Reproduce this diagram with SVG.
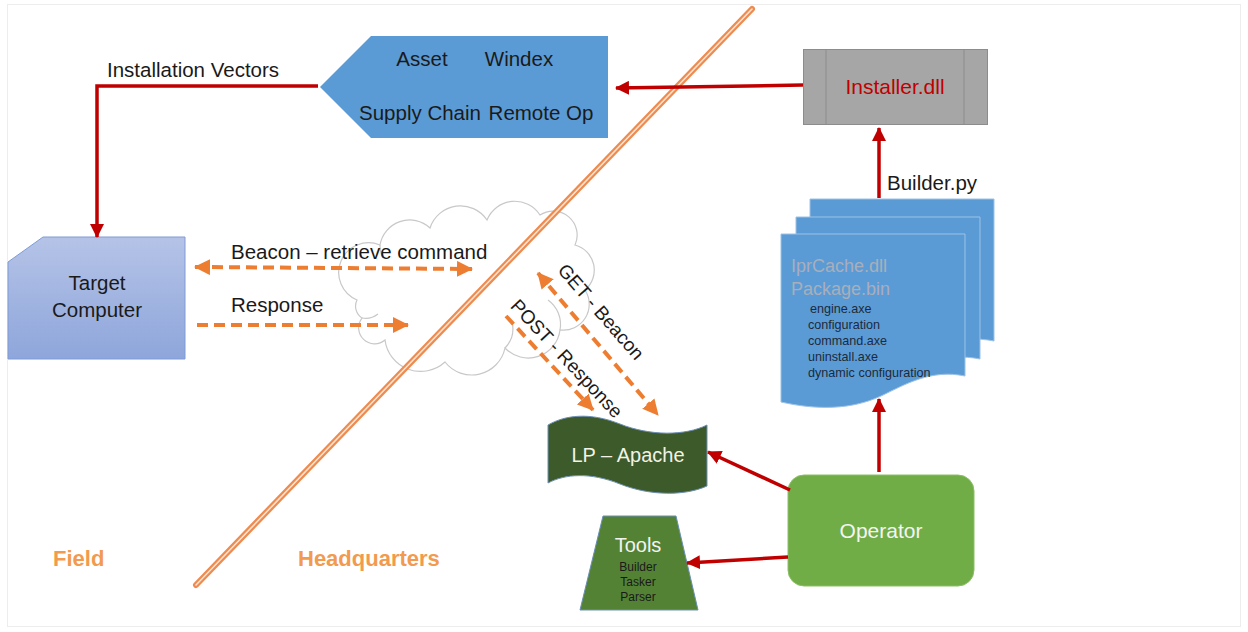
<svg xmlns="http://www.w3.org/2000/svg" width="1248" height="632" viewBox="0 0 1248 632">
<defs>
  <style>
    text { font-family: "Liberation Sans", Arial, sans-serif; fill: #1a1a1a; }
    .lbl { font-size: 20.5px; }
    .ctr { text-anchor: middle; }
    .small { font-size: 12.6px; fill: #1c2a3c; }
    .red { fill: none; stroke: #C00000; stroke-width: 3.5; }
    .orange { fill: none; stroke: #ED7D31; stroke-width: 4; stroke-dasharray: 11 6; }
    .zone { font-size: 22px; font-weight: bold; fill: #F29A4E; }
    .doc { fill: #5B9BD5; stroke: #9cc2e6; stroke-width: 1; }
    .cloudline { fill: none; stroke: #c8c8c8; stroke-width: 1.2; }
  </style>
  <marker id="redHead" markerUnits="userSpaceOnUse" markerWidth="14" markerHeight="14" viewBox="0 0 14 14" refX="13" refY="7" orient="auto">
    <path d="M0,0 L14,7 L0,14 Z" fill="#C00000"/>
  </marker>
  <marker id="orHead" markerUnits="userSpaceOnUse" markerWidth="16" markerHeight="16" viewBox="0 0 16 16" refX="15" refY="8" orient="auto-start-reverse">
    <path d="M0,0 L16,8 L0,16 Z" fill="#ED7D31"/>
  </marker>
  <linearGradient id="tcGrad" x1="0" y1="0" x2="0" y2="1">
    <stop offset="0" stop-color="#B5C3E7"/>
    <stop offset="1" stop-color="#8EA6DB"/>
  </linearGradient>
  <path id="docShape" d="M0,0 H184 V142 C150,135 125,150 100,162 C70,176 35,176 0,168 Z"/>
</defs>

<rect x="0" y="0" width="1248" height="632" fill="#ffffff"/>
<rect x="7.5" y="4.5" width="1233" height="622" fill="none" stroke="#ededed" stroke-width="1"/>

<!-- cloud (background) -->
<g id="cloud">
  <path d="M357,300 A26,26 0 0 1 380,245 A30,30 0 0 1 430,228 A32,32 0 0 1 487,220 A30,30 0 0 1 540,215 A24,24 0 0 1 575,245 A26,26 0 0 1 585,290 A26,26 0 0 1 560,330 A32,32 0 0 1 505,348 A34,34 0 0 1 445,362 A36,36 0 0 1 385,340 A16,16 0 0 1 362,318 A14,14 0 0 1 357,300 Z" fill="#ffffff" stroke="#c8c8c8" stroke-width="1.2"/>
  <path class="cloudline" d="M362,318 A20,20 0 0 0 378,314"/>
  <path class="cloudline" d="M380,245 A26,26 0 0 0 383,258"/>
  <path class="cloudline" d="M505,348 A28,28 0 0 0 512,322"/>
  <path class="cloudline" d="M560,330 A30,30 0 0 0 548,300"/>
</g>

<!-- nodes -->
<g id="vectors">
  <path d="M320,87 L371,36 H608 V138 H371 Z" fill="#5B9BD5"/>
  <text class="lbl ctr" x="422" y="66">Asset</text>
  <text class="lbl ctr" x="519" y="66">Windex</text>
  <text class="lbl ctr" x="420" y="120">Supply Chain</text>
  <text class="lbl ctr" x="541" y="120">Remote Op</text>
</g>

<g id="installer">
  <rect x="803.5" y="49.5" width="184" height="75" fill="#A6A6A6" stroke="#8c8c8c"/>
  <line x1="826" y1="49.5" x2="826" y2="124.5" stroke="#8c8c8c"/>
  <line x1="964" y1="49.5" x2="964" y2="124.5" stroke="#8c8c8c"/>
  <text class="ctr" x="895" y="94" style="font-size:21px; fill:#C00000">Installer.dll</text>
</g>

<g id="target">
  <path d="M8,262 L43,237 H185 V359 H8 Z" fill="url(#tcGrad)" stroke="#7f9bd6" stroke-width="1"/>
  <text class="lbl ctr" x="97" y="290">Target</text>
  <text class="lbl ctr" x="97" y="317">Computer</text>
</g>

<g id="package">
  <use href="#docShape" class="doc" transform="translate(810,199)"/>
  <use href="#docShape" class="doc" transform="translate(796,217)"/>
  <use href="#docShape" class="doc" transform="translate(781,234)"/>
  <text x="791" y="272" style="font-size:18px; fill:#a9aebb">IprCache.dll</text>
  <text x="791" y="295" style="font-size:18px; fill:#a9aebb">Package.bin</text>
  <text class="small" x="810" y="313">engine.axe</text>
  <text class="small" x="808" y="329">configuration</text>
  <text class="small" x="808" y="345">command.axe</text>
  <text class="small" x="808" y="361">uninstall.axe</text>
  <text class="small" x="808" y="377">dynamic configuration</text>
</g>

<g id="lp">
  <path d="M548,425 C565,415 590,412 620,424 C650,436 685,436 707,425 V486 C685,496 650,496 620,484 C590,472 565,474 548,483 Z" fill="#3C5A2A" stroke="#6d8fb5" stroke-width="1"/>
  <text class="ctr" x="628" y="462" style="font-size:20px; fill:#F2F2E6">LP – Apache</text>
</g>

<g id="tools">
  <path d="M603,516 H676 L698,610 H580 Z" fill="#548235" stroke="#6a8fb8" stroke-width="1"/>
  <text class="ctr" x="638" y="552" style="font-size:20px; fill:#F2F2F2">Tools</text>
  <text class="ctr" x="638" y="571" style="font-size:12px; fill:#1a1a1a">Builder</text>
  <text class="ctr" x="638" y="586" style="font-size:12px; fill:#1a1a1a">Tasker</text>
  <text class="ctr" x="638" y="601" style="font-size:12px; fill:#1a1a1a">Parser</text>
</g>

<g id="operator">
  <rect x="788" y="475" width="186" height="111" rx="16" ry="16" fill="#70AD47" stroke="#8cbf68" stroke-width="1"/>
  <text class="ctr" x="881" y="538" style="font-size:21px; fill:#F4F4F4">Operator</text>
</g>

<!-- divider -->
<g id="divider">
  <line x1="196" y1="585" x2="752" y2="9" stroke="#EE8B4F" stroke-width="6" stroke-linecap="round"/>
  <line x1="196" y1="585" x2="752" y2="9" stroke="#FBE3D2" stroke-width="1.6" stroke-linecap="round"/>
</g>

<!-- connectors -->
<g id="connectors">
  <line class="red" x1="803" y1="85" x2="616" y2="88" marker-end="url(#redHead)"/>
  <polyline class="red" points="318,86 97,86 97,237" marker-end="url(#redHead)"/>
  <line class="red" x1="879" y1="198" x2="879" y2="128" marker-end="url(#redHead)"/>
  <line class="red" x1="879" y1="472" x2="879" y2="399" marker-end="url(#redHead)"/>
  <line class="red" x1="790" y1="490" x2="708" y2="452" marker-end="url(#redHead)"/>
  <line class="red" x1="788" y1="557" x2="687" y2="563" marker-end="url(#redHead)"/>

  <line class="orange" x1="195" y1="267" x2="472" y2="269" marker-start="url(#orHead)" marker-end="url(#orHead)"/>
  <line class="orange" x1="197" y1="325" x2="408" y2="325" marker-end="url(#orHead)"/>
  <line class="orange" x1="538" y1="273" x2="658" y2="415" marker-start="url(#orHead)" marker-end="url(#orHead)"/>
  <line class="orange" x1="506" y1="316" x2="593" y2="410" marker-end="url(#orHead)"/>
</g>

<!-- connector labels -->
<g id="labels">
  <text class="lbl" x="107" y="77">Installation Vectors</text>
  <text class="lbl" x="887" y="190">Builder.py</text>
  <text class="lbl" x="231" y="259">Beacon – retrieve command</text>
  <text class="lbl" x="231" y="312">Response</text>
  <text class="ctr" transform="translate(596,316) rotate(49)" style="font-size:19px">GET - Beacon</text>
  <text class="ctr" transform="translate(562,363) rotate(47)" style="font-size:19px">POST - Response</text>
  <text class="zone" x="53" y="566">Field</text>
  <text class="zone" x="298" y="566">Headquarters</text>
</g>
</svg>
